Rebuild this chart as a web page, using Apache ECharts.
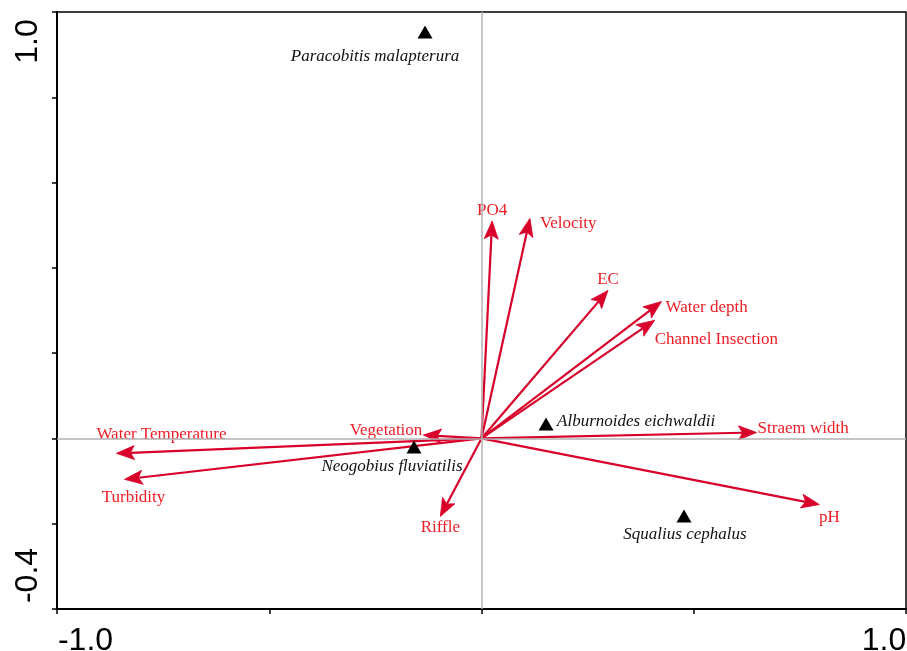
<!DOCTYPE html>
<html>
<head>
<meta charset="utf-8">
<script src="https://cdn.jsdelivr.net/npm/echarts@6/dist/echarts.min.js"></script>
<style>
html,body{margin:0;padding:0;background:#fff;}
#chart{width:907px;height:651px;}
</style>
</head>
<body>
<div id="chart"></div>
<script>
// ---- data ----
var envNames = ['PO4','Velocity','EC','Water depth','Channel Insection','Straem width','pH','Riffle','Vegetation','Water Temperature','Turbidity'];
var envX = [0.025, 0.114, 0.298, 0.424, 0.408, 0.648, 0.796, -0.097, -0.137, -0.860, -0.841];
var envY = [0.510, 0.516, 0.347, 0.321, 0.277, 0.014, -0.155, -0.183, 0.008, -0.035, -0.096];

var speciesNames = ['Paracobitis malapterura','Alburnoides eichwaldii','Neogobius fluviatilis','Squalius cephalus'];
var speciesX = [-0.133, 0.152, -0.159, 0.477];
var speciesY = [0.953, 0.034, -0.020, -0.182];

var xTickLabels = ['-1.0', '1.0'];
var yTickLabels = ['-0.4', '1.0'];

// ---- label placement (style) ----
var envLabelStyle = {
  'PO4': ['center', 0, -10],
  'Velocity': ['left', 10, 5],
  'EC': ['center', 0, -11],
  'Water depth': ['left', 4, 6],
  'Channel Insection': ['left', 0, 19],
  'Straem width': ['left', 1, -4],
  'pH': ['center', 10, 13],
  'Riffle': ['center', 0, 11],
  'Vegetation': ['right', -1, -4],
  'Water Temperature': ['left', -20, -19],
  'Turbidity': ['center', 9, 18]
};
var speciesLabelStyle = {
  'Paracobitis malapterura': ['center', -50, 24],
  'Alburnoides eichwaldii': ['left', 11, -2],
  'Neogobius fluviatilis': ['center', -22, 20],
  'Squalius cephalus': ['center', 1, 18]
};

var ARROW_COLOR = '#d8002a';
var LABEL_COLOR = '#ee1c25';
var SERIF = '"Liberation Serif", "Times New Roman", serif';
var SANS = '"Liberation Sans", Arial, sans-serif';

var envData = envNames.map(function (n, i) { return [envX[i], envY[i], n]; });
var speciesData = speciesNames.map(function (n, i) {
  var s = speciesLabelStyle[n];
  return {
    value: [speciesX[i], speciesY[i]],
    name: n,
    label: { align: s[0], offset: [s[1], s[2]] }
  };
});

var chart = echarts.init(document.getElementById('chart'), null, { renderer: 'canvas' });

function isNear(a, b) { return Math.abs(a - b) < 1e-9; }

var option = {
  animation: false,
  backgroundColor: '#fff',
  grid: {
    left: 57, top: 12, right: 1, bottom: 42,
    containLabel: false, outerBoundsMode: 'none',
    show: true, borderColor: '#000', borderWidth: 1.5, backgroundColor: 'transparent'
  },
  xAxis: {
    type: 'value', min: -1, max: 1, interval: 0.5,
    splitLine: { show: false },
    axisLine: { show: true, onZero: false, lineStyle: { color: '#000', width: 2 } },
    axisTick: { show: true, length: 5, lineStyle: { color: '#000', width: 1.5 } },
    axisLabel: {
      show: true, margin: 16, showMinLabel: true, showMaxLabel: true, hideOverlap: false,
      color: '#000', fontFamily: SANS, fontSize: 32,
      formatter: function (v) {
        if (isNear(v, -1)) return '{l|' + xTickLabels[0] + '}';
        if (isNear(v, 1)) return '{r|' + xTickLabels[1] + '}';
        return '';
      },
      rich: {
        l: { fontFamily: SANS, fontSize: 32, color: '#000', padding: [0, 0, 0, 57] },
        r: { fontFamily: SANS, fontSize: 32, color: '#000', padding: [0, 44, 0, 0] }
      }
    }
  },
  yAxis: {
    type: 'value', min: -0.4, max: 1, interval: 0.2,
    splitLine: { show: false },
    axisLine: { show: true, onZero: false, lineStyle: { color: '#000', width: 2 } },
    axisTick: { show: true, length: 5, lineStyle: { color: '#000', width: 1.5 } },
    axisLabel: {
      show: true, margin: 13, rotate: 90, showMinLabel: true, showMaxLabel: true, hideOverlap: false,
      color: '#000', fontFamily: SANS, fontSize: 32,
      formatter: function (v) {
        if (isNear(v, -0.4)) return '{b|' + yTickLabels[0] + '}';
        if (isNear(v, 1)) return '{t|' + yTickLabels[1] + '}';
        return '';
      },
      rich: {
        b: { fontFamily: SANS, fontSize: 32, color: '#000', padding: [0, 0, 0, 67] },
        t: { fontFamily: SANS, fontSize: 32, color: '#000', padding: [0, 59, 0, 0] }
      }
    }
  },
  series: [
    {
      type: 'scatter', data: [], z: 1, silent: true,
      markLine: {
        silent: true, symbol: 'none', animation: false,
        label: { show: false },
        lineStyle: { color: '#b2b2b2', width: 1.5, type: 'solid', opacity: 1 },
        emphasis: { disabled: true },
        data: [{ xAxis: 0 }, { yAxis: 0 }]
      }
    },
    {
      type: 'custom', z: 3, silent: true,
      data: envData,
      renderItem: function (params, api) {
        var o = api.coord([0, 0]);
        var p = api.coord([api.value(0), api.value(1)]);
        var name = envNames[params.dataIndex];
        var dx = p[0] - o[0], dy = p[1] - o[1];
        var len = Math.sqrt(dx * dx + dy * dy);
        var ux = dx / len, uy = dy / len;
        var L = 18, W = 7, N = 4;
        var bx = p[0] - ux * L, by = p[1] - uy * L;
        var nx = p[0] - ux * (L - N), ny = p[1] - uy * (L - N);
        var s = envLabelStyle[name];
        return {
          type: 'group',
          children: [
            {
              type: 'line',
              shape: { x1: o[0], y1: o[1], x2: nx, y2: ny },
              style: { stroke: ARROW_COLOR, lineWidth: 2.2 }
            },
            {
              type: 'polygon',
              shape: { points: [[p[0], p[1]], [bx - uy * W, by + ux * W], [nx, ny], [bx + uy * W, by - ux * W]] },
              style: { fill: ARROW_COLOR, stroke: ARROW_COLOR, lineWidth: 0.8, lineJoin: 'miter' }
            },
            {
              type: 'text',
              style: {
                text: name, x: p[0] + s[1], y: p[1] + s[2],
                fill: LABEL_COLOR, font: '17px ' + SERIF,
                align: s[0], verticalAlign: 'middle'
              }
            }
          ]
        };
      }
    },
    {
      type: 'scatter', z: 4, silent: true,
      symbol: 'triangle', symbolSize: [15, 13],
      itemStyle: { color: '#000', opacity: 1 },
      label: {
        show: true, position: 'inside',
        formatter: function (p) { return p.name; },
        color: '#111', opacity: 1, fontFamily: SERIF, fontStyle: 'italic', fontSize: 17
      },
      data: speciesData
    }
  ]
};
chart.setOption(option);
</script>
</body>
</html>
